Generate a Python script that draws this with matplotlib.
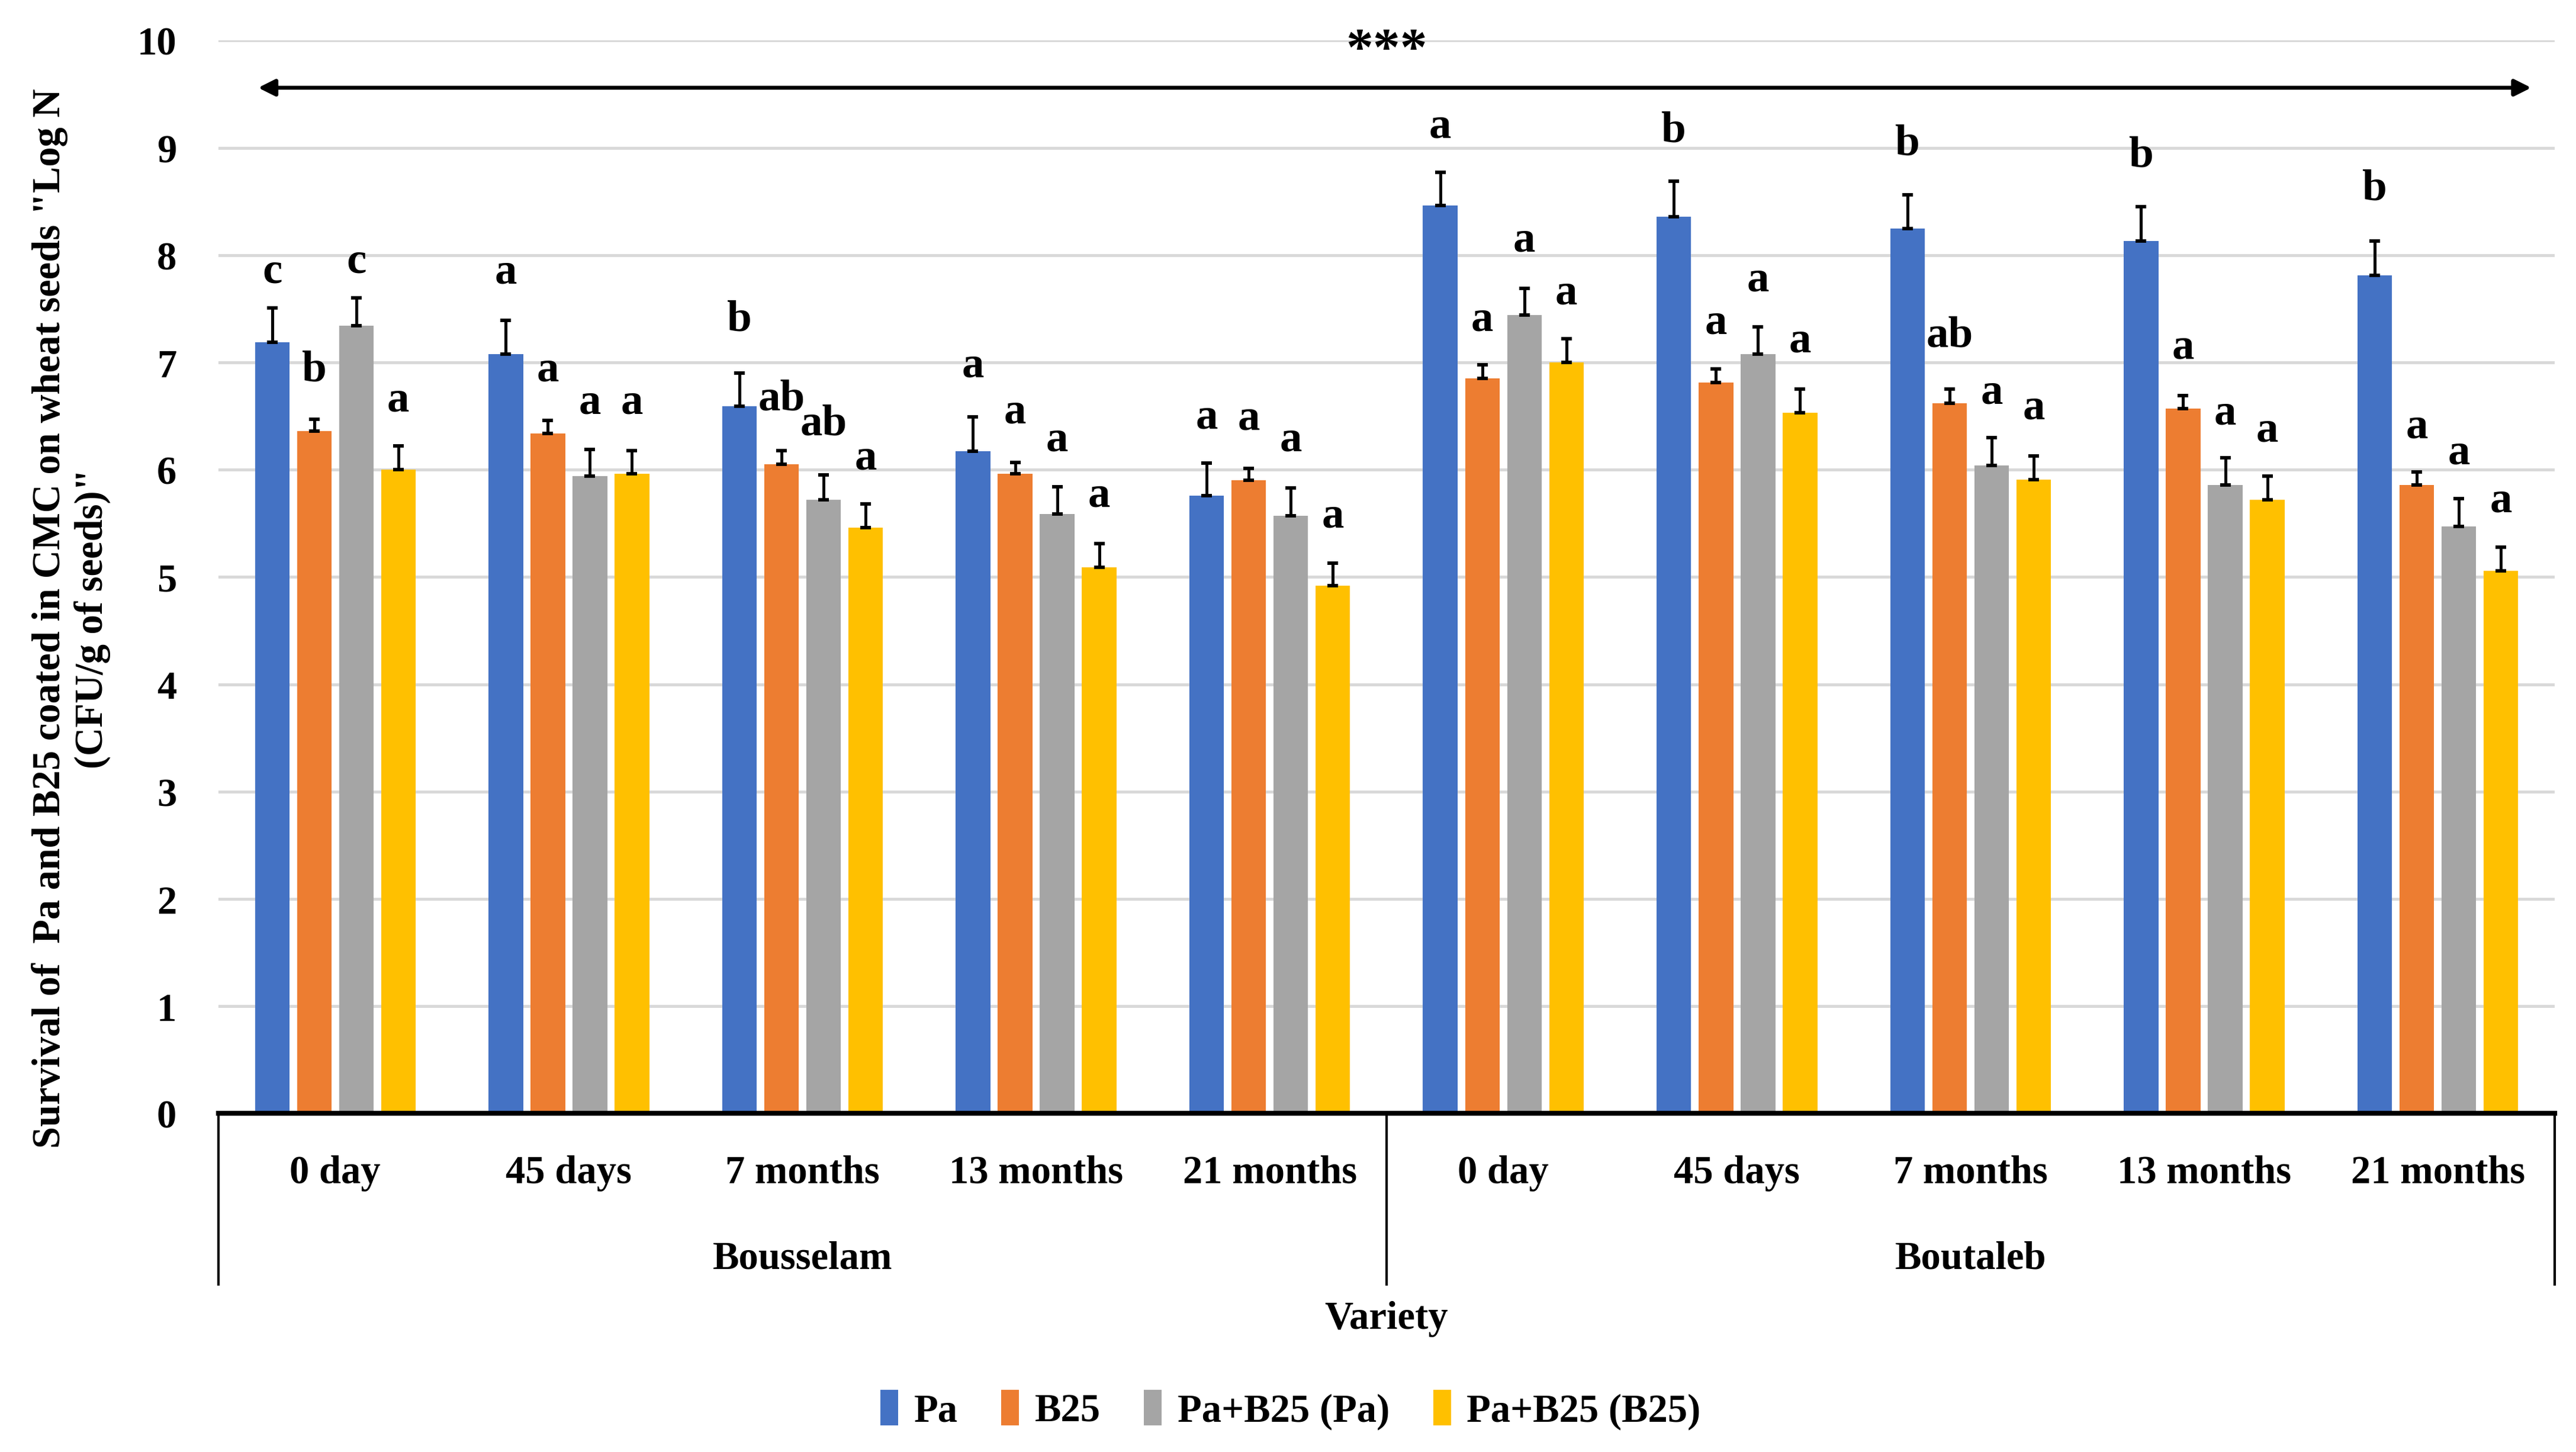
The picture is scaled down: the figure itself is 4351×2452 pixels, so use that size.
import numpy as np
import matplotlib.pyplot as plt
from matplotlib import rcParams
import matplotlib.transforms as mtransforms

rcParams['font.family'] = 'Liberation Serif'
rcParams['font.weight'] = 'bold'
rcParams['font.size'] = 16

times = ['0 day', '45 days', '7 months', '13 months', '21 months']
varieties = ['Bousselam', 'Boutaleb']
series = ['Pa', 'B25', 'Pa+B25 (Pa)', 'Pa+B25 (B25)']
colors = ['#4472C4', '#ED7D31', '#A5A5A5', '#FFC000']

# means, Bousselam then Boutaleb
pa      = [7.19, 7.08, 6.59, 6.17, 5.76, 8.46, 8.36, 8.25, 8.13, 7.81]
b25     = [6.36, 6.34, 6.05, 5.96, 5.90, 6.85, 6.81, 6.62, 6.57, 5.86]
mix_pa  = [7.34, 5.94, 5.72, 5.59, 5.57, 7.44, 7.08, 6.04, 5.86, 5.47]
mix_b25 = [6.00, 5.96, 5.46, 5.09, 4.92, 7.00, 6.53, 5.91, 5.72, 5.06]

# standard errors (upper bar only)
pa_err      = [0.32, 0.31, 0.31, 0.32, 0.30, 0.31, 0.33, 0.31, 0.32, 0.32]
b25_err     = [0.11, 0.12, 0.13, 0.11, 0.11, 0.13, 0.13, 0.13, 0.12, 0.12]
mix_pa_err  = [0.26, 0.25, 0.23, 0.25, 0.26, 0.25, 0.25, 0.26, 0.25, 0.26]
mix_b25_err = [0.22, 0.22, 0.22, 0.22, 0.21, 0.22, 0.22, 0.22, 0.22, 0.22]

# significance letters and their heights
pa_lab      = ['c', 'a', 'b', 'a', 'a', 'a', 'b', 'b', 'b', 'b']
b25_lab     = ['b', 'a', 'ab', 'a', 'a', 'a', 'a', 'ab', 'a', 'a']
mix_pa_lab  = ['c', 'a', 'ab', 'a', 'a', 'a', 'a', 'a', 'a', 'a']
mix_b25_lab = ['a', 'a', 'a', 'a', 'a', 'a', 'a', 'a', 'a', 'a']
pa_lab_y      = [7.85, 7.84, 7.40, 6.97, 6.49, 9.20, 9.16, 9.04, 8.93, 8.62]
b25_lab_y     = [6.93, 6.93, 6.66, 6.54, 6.48, 7.40, 7.37, 7.25, 7.14, 6.40]
mix_pa_lab_y  = [7.94, 6.63, 6.43, 6.28, 6.28, 8.14, 7.77, 6.72, 6.53, 6.16]
mix_b25_lab_y = [6.65, 6.63, 6.11, 5.76, 5.57, 7.65, 7.20, 6.58, 6.37, 5.71]

means = [pa, b25, mix_pa, mix_b25]
errs = [pa_err, b25_err, mix_pa_err, mix_b25_err]
labs = [pa_lab, b25_lab, mix_pa_lab, mix_b25_lab]
labs_y = [pa_lab_y, b25_lab_y, mix_pa_lab_y, mix_b25_lab_y]

fig = plt.figure(figsize=(4351/300, 2453/300))
ax = fig.add_axes([0.0848, 0.233, 0.9069, 0.7387])

n = len(pa)
x = np.arange(n) + 0.5
step = 0.18
width = 0.148
for k in range(4):
    xs = x + (k - 1.5)*step
    ax.bar(xs, means[k], width, color=colors[k], label=series[k], zorder=3)
    ax.errorbar(xs, means[k], yerr=[np.zeros(n), errs[k]], fmt='none',
                ecolor='black', elinewidth=1.2, capsize=2.2, capthick=1.4, zorder=4)
    for i in range(n):
        ax.text(xs[i], labs_y[k][i], labs[k][i], ha='center', va='center',
                fontsize=18, fontweight='bold')

ax.set_xlim(0, n)
ax.set_ylim(0, 10)
ax.set_yticks(np.arange(0, 11, 1))
ax.grid(axis='y', color='#d9d9d9', linewidth=1.2, zorder=0)
ax.tick_params(axis='y', length=0, pad=17, labelsize=16)
ax.set_xticks([])
for s in ['left', 'right', 'top']:
    ax.spines[s].set_visible(False)
ax.spines['bottom'].set_linewidth(2.0)
ax.spines['bottom'].set_zorder(5)

# significance arrow
ax.annotate('', xy=(0.17, 9.56), xytext=(9.9, 9.56),
            arrowprops=dict(arrowstyle='<|-|>', color='black', lw=1.6,
                            mutation_scale=14, shrinkA=0, shrinkB=0))
ax.text(5.0, 9.9, '***', ha='center', va='center', fontsize=22, fontweight='bold')

# two-level category axis
trans = mtransforms.blended_transform_factory(ax.transData, ax.transAxes)
for xv in [0, 5, 10]:
    ax.plot([xv, xv], [0, -0.159], transform=trans, color='black', lw=1.0, clip_on=False)
for i in range(n):
    ax.text(x[i], -0.055, times[i % 5], transform=trans, ha='center', va='center',
            fontsize=16, fontweight='bold')
for j, v in enumerate(varieties):
    ax.text(2.5 + 5*j, -0.135, v, transform=trans, ha='center', va='center',
            fontsize=16, fontweight='bold')
ax.text(0.5, -0.191, 'Variety', transform=ax.transAxes, ha='center', va='center',
        fontsize=16, fontweight='bold')

ax.set_ylabel('Survival of  Pa and B25 coated in CMC on wheat seeds "Log N\n(CFU/g of seeds)"',
              fontsize=16, fontweight='bold')
ax.yaxis.set_label_coords(-0.046, 0.462)

fig.legend(loc='center', bbox_to_anchor=(0.501, 0.029), ncol=4, frameon=False,
           handlelength=0.45, handleheight=1.0, handletextpad=0.4, columnspacing=1.1,
           prop={'size': 16, 'weight': 'bold'})

fig.savefig('out.png', dpi=300)
